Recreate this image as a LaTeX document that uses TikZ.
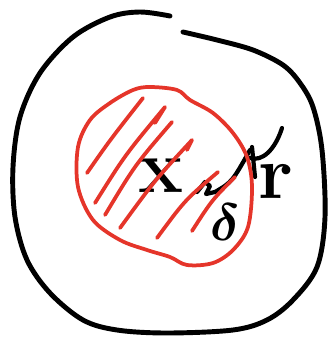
\documentclass[tikz,border=0pt]{standalone}
\usetikzlibrary{positioning}
\definecolor{rot}{HTML}{E5352A}

\begin{document}
\begin{tikzpicture}[x=0.03cm, y=-0.03cm, line cap=round, line join=round,
    rand/.style={line width=4.2pt},
    kugel/.style={rot, line width=3.2pt},
    strich/.style={line width=3.6pt},
    every node/.style={font=\Huge\bfseries\boldmath}]
  \useasboundingbox (0,0) rectangle (329,337);
  % outer set, open at the top
  \draw[rand] plot[smooth, tension=0.55] coordinates {
    (183,32) (217,40) (253,50) (283,65) (300,83) (313,107) (322,150)
    (325,217) (317,267) (293,300) (267,320) (233,330) (167,333)
    (117,330) (83,320) (50,293) (27,260) (15,217) (13,167) (20,117)
    (40,73) (73,37) (110,17) (140,12) (170,16)};
  % labels
  \node (x) at (161,176) [scale=2.6] {x};
  \node (r) at (276,181) [scale=2.6] {r};
  \node (d) at (225,222) [scale=1.8] {$\delta$};
  % radius and pointer
  \coordinate (rand1) at (250,150);
  \coordinate (rtop) at (282,128);
  \coordinate (rend) at (255,177);
  \draw[strich] (197,192) -- (205,182) -- (210,186) -- (206,194) -- (215,192)
    .. controls (232,182) .. (rand1);
  \draw[strich] (rtop) .. controls (275,150) and (262,162) .. (250,158);
  \draw[strich] (252,147) -- (rend);
  % ball
  \draw[kugel] plot[smooth cycle, tension=0.55] coordinates {
    (150,87) (177,90) (190,100) (213,113) (233,133) (247,157) (252,187)
    (248,227) (233,250) (213,263) (187,265) (170,257) (147,250)
    (120,240) (93,220) (78,187) (78,147) (90,120) (110,103) (133,90)};
  % hatching
  \draw[kugel] (87,173) .. controls (110,140) .. (143,98);
  \draw[kugel] (95,203) .. controls (125,155) .. (165,107) -- (155,123);
  \draw[kugel] (105,215) .. controls (135,165) .. (172,122);
  \draw[kugel] (120,228) .. controls (155,180) .. (192,140) -- (187,150);
  \draw[kugel] (157,238) .. controls (185,200) .. (218,172);
  \draw[kugel] (192,231) .. controls (212,200) .. (235,177);
\end{tikzpicture}
\end{document}
